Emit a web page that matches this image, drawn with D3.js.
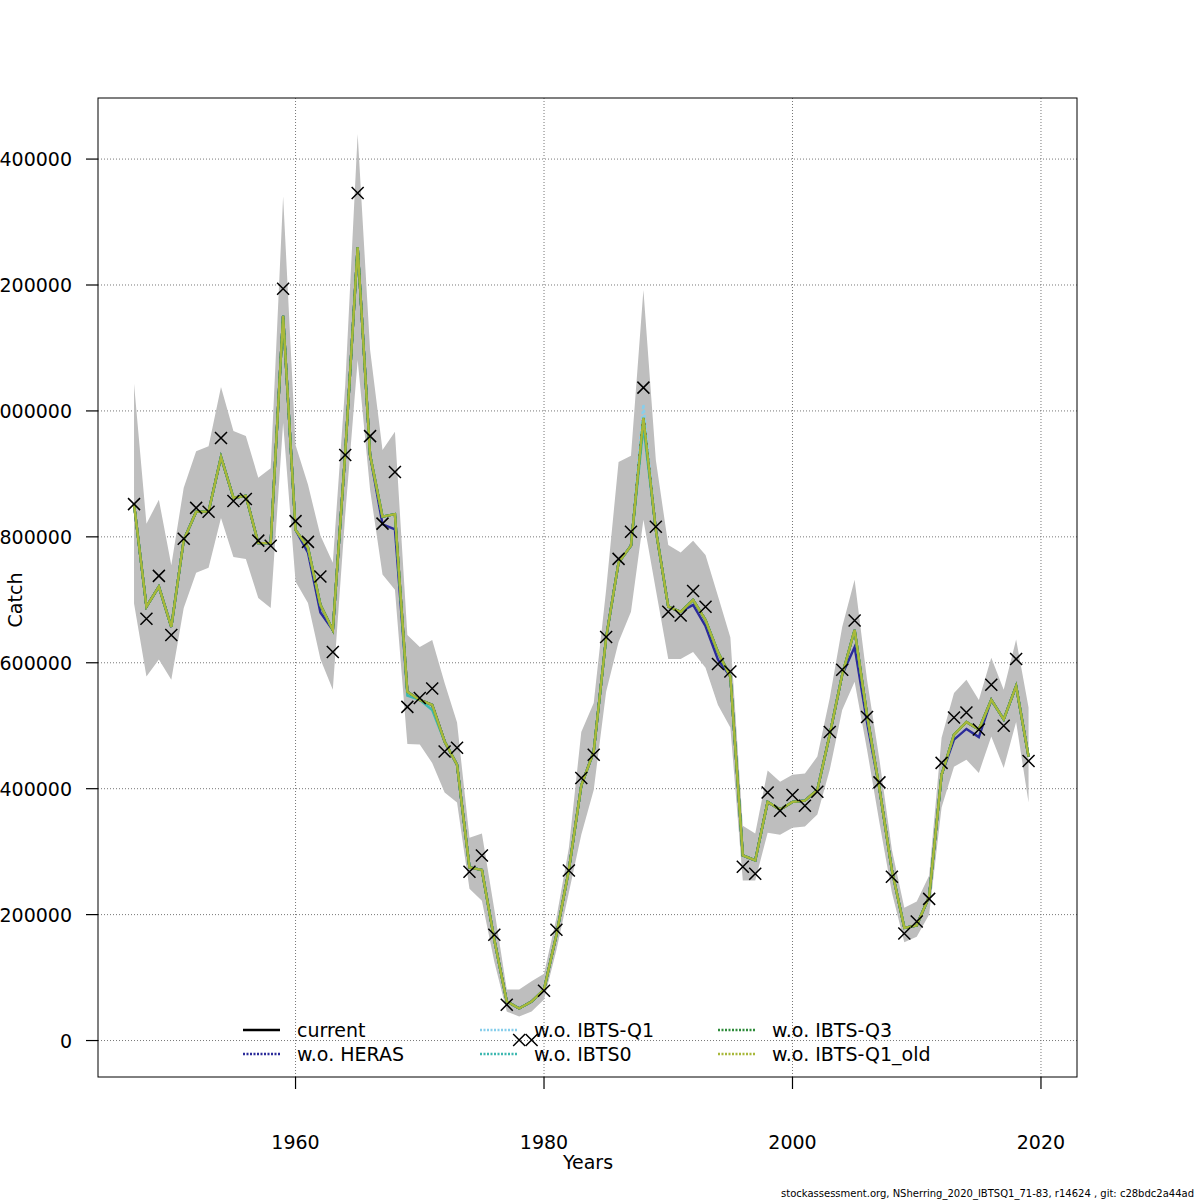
<!DOCTYPE html>
<html><head><meta charset="utf-8">
<script src="https://cdn.jsdelivr.net/npm/d3@7"></script>
<style>body{margin:0;background:#fff}svg{font-family:"DejaVu Sans",sans-serif}</style>
</head><body><div id="chart"></div>
<script>
const years = d3.range(1947, 2020);
// observed catch (x marks)
const observed = [852,670,738,644,797,846,840,957,857,860,794,786,1194,825,792,737,617,930,1346,960,821,903,530,544,559,459,465,268,294,168,57,1,1,79,176,270,417,454,641,765,808,1037,816,681,675,714,689,598,586,276,265,394,365,390,373,395,490,589,667,514,410,260,170,189,225,441,513,521,494,565,500,606,444];
// fitted catch, current run
const current = [852,689,721,657,795,840,840,927,862,865,790,790,1151,811,783,692,652,933,1260,930,832,836,554,541,533,475,438,275,271,160,62,51,62,81,168,271,405,459,640,759,786,989,811,689,681,700,668,617,578,294,286,379,367,379,381,398,486,581,652,517,400,271,179,183,229,422,486,506,494,541,510,563,451];
const upper = [1043,821,859,755,878,936,944,1038,968,960,894,909,1341,946,883,802,759,1041,1440,1097,938,967,644,625,636,568,505,322,329,208,81,81,94,106,195,306,490,536,716,919,929,1192,922,787,775,794,771,706,640,341,329,429,411,422,424,451,544,657,732,573,446,303,211,221,262,481,552,573,541,608,557,637,529];
const lower = [694,578,605,573,687,743,751,830,768,765,703,687,981,729,695,606,557,835,1081,875,740,716,471,470,441,394,378,241,222,125,46,38,46,65,144,235,327,398,554,633,681,827,716,606,606,617,592,533,497,254,254,330,327,338,340,359,430,525,570,462,346,235,156,165,200,370,435,446,425,483,433,506,378];
// years where the retrospective runs differ from current: [year, value]
const herasDiff = [[1961,775],[1962,680],[1967,820],[1968,812],[1992,692],[1993,658],[1994,605],[2005,625],[2006,505],[2013,478],[2014,495],[2015,482]];
const q1Diff = [[1988,1010]];
const ibts0Diff = [[1969,548],[1971,525],[1988,975]];
const yTicks = [0,200000,400000,600000,800000,1000000,1200000,1400000];
const xTicks = [1960,1980,2000,2020];
const series = [
  {name:"current", color:"#000000", diff:[], dash:null},
  {name:"w.o. HERAS", color:"#2b2b9a", diff:herasDiff, dash:null},
  {name:"w.o. IBTS-Q1", color:"#87ceeb", diff:q1Diff, dash:"3,2"},
  {name:"w.o. IBTS0", color:"#3cb8b0", diff:ibts0Diff, dash:null},
  {name:"w.o. IBTS-Q3", color:"#2e8b3a", diff:[], dash:null},
  {name:"w.o. IBTS-Q1_old", color:"#a8b83a", diff:[], dash:null}
];

const svg = d3.select("#chart").append("svg").attr("width",1200).attr("height",1200);
const L=98,R=1077,T=98,B=1077;
const x = d3.scaleLinear().domain([1944.1,2022.9]).range([L,R]);
const y = d3.scaleLinear().domain([-57900,1497000]).range([B,T]);

// grid
svg.append("g").selectAll("line").data(xTicks).join("line")
  .attr("x1",d=>x(d)).attr("x2",d=>x(d)).attr("y1",T).attr("y2",B)
  .attr("stroke","#777").attr("stroke-dasharray","1,2");
svg.append("g").selectAll("line").data(yTicks).join("line")
  .attr("x1",L).attr("x2",R).attr("y1",d=>y(d)).attr("y2",d=>y(d))
  .attr("stroke","#777").attr("stroke-dasharray","1,2");

// band
const area = d3.area().x((d,i)=>x(years[i])).y0((d,i)=>y(lower[i]*1000)).y1(d=>y(d*1000));
svg.append("path").datum(upper).attr("d",area).attr("fill","#bebebe");

// lines
const line = d3.line().x((d,i)=>x(years[i])).y(d=>y(d*1000));
series.forEach(s=>{
  const m = new Map(s.diff);
  const vals = years.map((yr,i)=>m.has(yr)?m.get(yr):current[i]);
  svg.append("path").datum(vals).attr("d",line).attr("fill","none")
    .attr("stroke",s.color).attr("stroke-width",2.4).attr("stroke-dasharray",s.dash);
});

// observed
const cr=6;
svg.append("g").selectAll("path").data(observed).join("path")
  .attr("d",(d,i)=>{const cx=x(years[i]),cy=y(d*1000);
    return `M${cx-cr},${cy-cr}L${cx+cr},${cy+cr}M${cx-cr},${cy+cr}L${cx+cr},${cy-cr}`;})
  .attr("stroke","#000").attr("stroke-width",1.5);

// frame, tick marks and labels
svg.append("rect").attr("x",L).attr("y",T).attr("width",R-L).attr("height",B-T)
  .attr("fill","none").attr("stroke","#000");
svg.append("g").selectAll("line").data(yTicks).join("line")
  .attr("x1",L-12).attr("x2",L).attr("y1",d=>y(d)).attr("y2",d=>y(d))
  .attr("stroke","#000").attr("stroke-width",1.2);
svg.append("g").selectAll("line").data(xTicks).join("line")
  .attr("x1",d=>x(d)).attr("x2",d=>x(d)).attr("y1",B).attr("y2",B+12)
  .attr("stroke","#000").attr("stroke-width",1.2);
svg.append("g").selectAll("text").data(yTicks).join("text")
  .attr("x",L-26).attr("y",d=>y(d)+7).attr("text-anchor","end").attr("font-size",19).text(d=>d);
svg.append("g").selectAll("text").data(xTicks).join("text")
  .attr("x",d=>x(d)).attr("y",1149).attr("text-anchor","middle").attr("font-size",19).text(d=>d);

svg.append("text").attr("x",588).attr("y",1169).attr("text-anchor","middle").attr("font-size",19).text("Years");
svg.append("text").attr("transform","translate(22,600) rotate(-90)").attr("text-anchor","middle").attr("font-size",19).text("Catch");

// legend
const cols=[243,480,718], rows=[1030,1054];
series.forEach((s,i)=>{
  const lx=cols[Math.floor(i/2)], ly=rows[i%2];
  svg.append("line").attr("x1",lx).attr("x2",lx+37).attr("y1",ly).attr("y2",ly)
    .attr("stroke",s.color).attr("stroke-width",2.4).attr("stroke-dasharray",i===0?null:"2,1.5");
  svg.append("text").attr("x",lx+54).attr("y",ly+7).attr("font-size",19).text(s.name);
});

svg.append("text").attr("x",1194).attr("y",1197).attr("text-anchor","end").attr("font-size",10)
  .text("stockassessment.org, NSherring_2020_IBTSQ1_71-83, r14624 , git: c28bdc2a44ad");
</script></body></html>
